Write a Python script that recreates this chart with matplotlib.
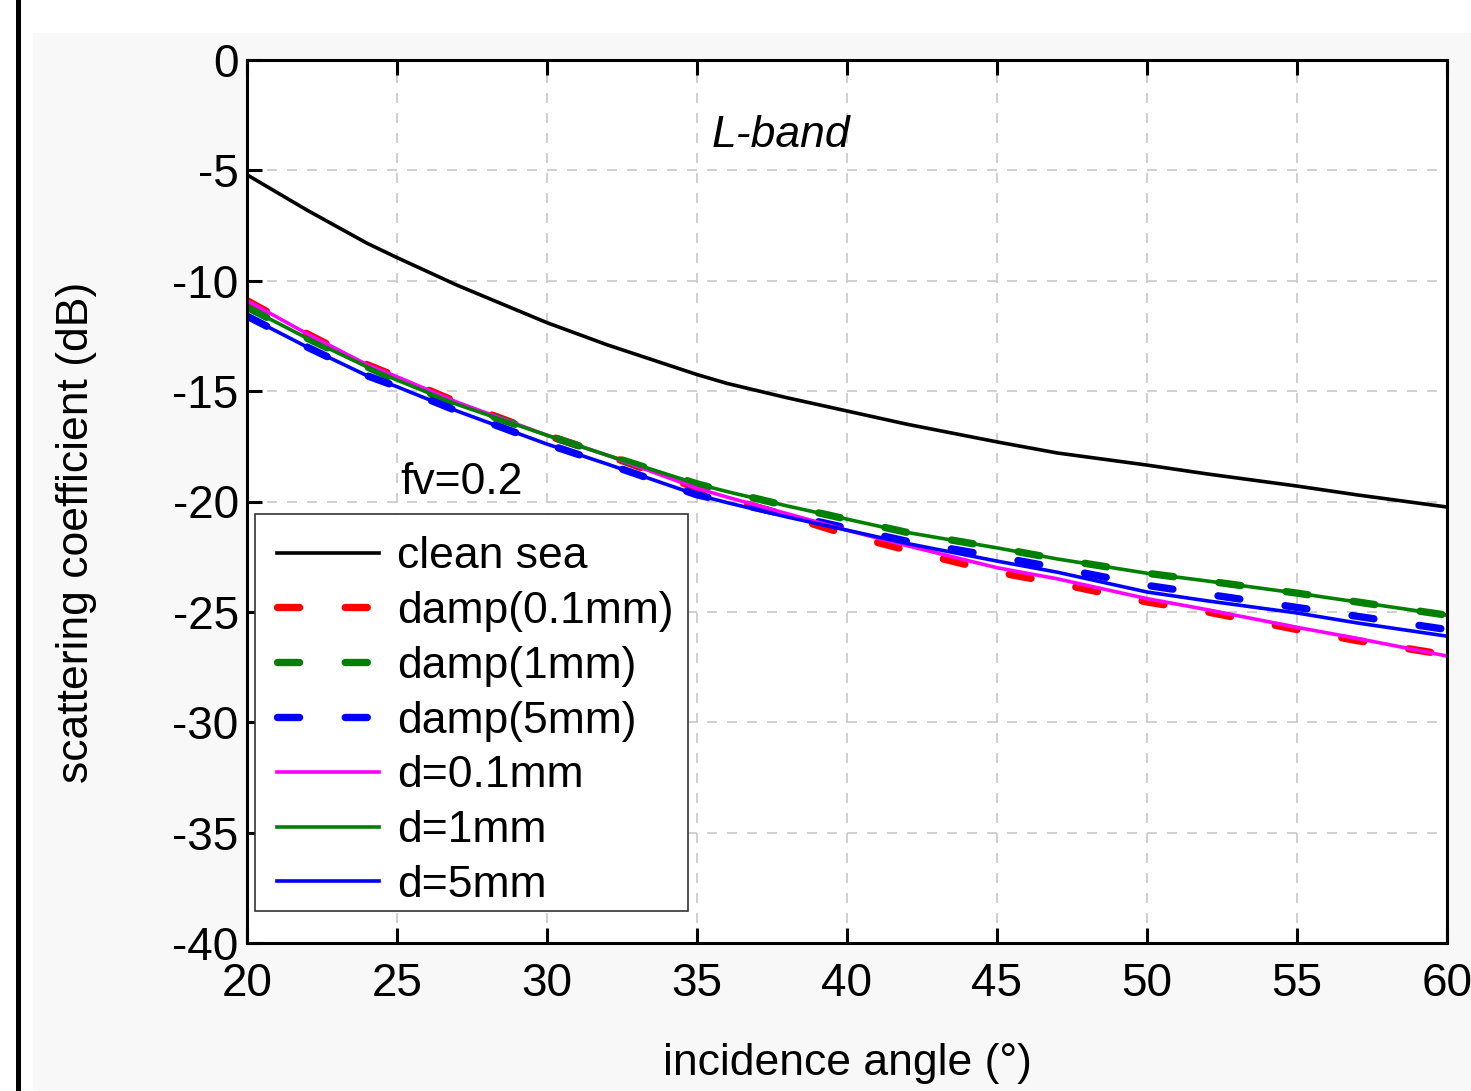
import numpy as np
import matplotlib.pyplot as plt
from matplotlib.patches import Rectangle

plt.rcParams['font.family'] = ['Liberation Sans', 'DejaVu Sans']
plt.rcParams['axes.unicode_minus'] = False

# incidence angles (deg)
angle = [20, 22, 24, 25, 27, 30, 32, 35, 36, 38, 40, 42, 45, 47, 50, 52, 55, 57, 60]

# scattering coefficient (dB)
clean_sea = [-5.2, -6.8, -8.3, -8.95, -10.2, -11.9, -12.9, -14.25, -14.65, -15.3, -15.9,
             -16.5, -17.3, -17.8, -18.35, -18.75, -19.3, -19.7, -20.25]
d01 = [-10.9, -12.4, -13.8, -14.35, -15.5, -17.0, -17.9, -19.4, -19.8, -20.55, -21.3,
       -22.0, -23.0, -23.5, -24.4, -24.9, -25.7, -26.2, -27.0]
d1 = [-11.2, -12.6, -13.9, -14.5, -15.6, -17.0, -17.9, -19.2, -19.55, -20.2, -20.8,
      -21.4, -22.1, -22.6, -23.25, -23.6, -24.15, -24.55, -25.15]
d5 = [-11.6, -13.0, -14.3, -14.8, -15.9, -17.4, -18.3, -19.7, -20.05, -20.7, -21.3,
      -21.9, -22.7, -23.2, -24.1, -24.5, -25.05, -25.5, -26.1]
damp01 = [-10.9, -12.4, -13.8, -14.35, -15.5, -17.0, -17.9, -19.4, -19.85, -20.65, -21.5,
          -22.2, -23.2, -23.7, -24.55, -25.0, -25.8, -26.3, -26.95]
damp1 = [-11.2, -12.6, -13.9, -14.5, -15.6, -17.0, -17.9, -19.2, -19.55, -20.2, -20.8,
         -21.4, -22.1, -22.6, -23.25, -23.6, -24.15, -24.55, -25.15]
damp5 = [-11.6, -13.0, -14.3, -14.8, -15.9, -17.4, -18.3, -19.7, -20.0, -20.6, -21.2,
         -21.8, -22.5, -23.0, -23.8, -24.2, -24.8, -25.2, -25.8]

fig = plt.figure(figsize=(14.71, 10.91), dpi=100)
fig.patch.set_facecolor('white')
# faint grey page behind the chart and black bar on the left edge
fig.patches.append(Rectangle((33 / 1471, 0), 1, 1 - 33 / 1091, transform=fig.transFigure,
                             facecolor='#f8f8f8', edgecolor='none', zorder=-10))
fig.patches.append(Rectangle((16 / 1471, 0), 5 / 1471, 1, transform=fig.transFigure,
                             facecolor='black', edgecolor='none', zorder=-9))

ax = fig.add_axes([247 / 1471, 1 - 943 / 1091, 1200 / 1471, 883 / 1091])
ax.set_facecolor('white')

dash_kw = dict(linewidth=5.3, dashes=(3, 6.2), dash_capstyle='round')
ax.plot(angle, clean_sea, color='black', linewidth=2.6, label='clean sea')
ax.plot(angle, damp01, color='red', label='damp(0.1mm)', **dash_kw)
ax.plot(angle, damp1, color='green', label='damp(1mm)', **dash_kw)
ax.plot(angle, damp5, color='blue', label='damp(5mm)', **dash_kw)
ax.plot(angle, d01, color='magenta', linewidth=2.6, label='d=0.1mm')
ax.plot(angle, d1, color='green', linewidth=2.6, label='d=1mm')
ax.plot(angle, d5, color='blue', linewidth=2.6, label='d=5mm')

ax.set_xlim(20, 60)
ax.set_ylim(-40, 0)
ax.set_xticks(np.arange(20, 61, 5))
ax.set_yticks(np.arange(-40, 1, 5))
ax.grid(True, color='#c8c8c8', linestyle=(0, (6, 6)), linewidth=1.2)

for s in ax.spines.values():
    s.set_linewidth(2.2)
ax.tick_params(axis='both', direction='in', length=11, width=2.2, labelsize=33,
               top=True, right=False)
ax.tick_params(axis='x', pad=14)
ax.tick_params(axis='y', pad=6)

ax.set_xlabel('incidence angle (°)', fontsize=32, labelpad=26)
ax.set_ylabel('scattering coefficient (dB)', fontsize=32)
ax.yaxis.set_label_coords(-0.125, 0.4655)

ax.text(37.8, -3.4, 'L-band', fontsize=32, style='italic', ha='center', va='center')
ax.text(25.1, -19.15, 'fv=0.2', fontsize=32, ha='left', va='center')

# legend box drawn separately so its size matches the original
ax.add_patch(Rectangle((8 / 1200, 1 - 851 / 883), 433 / 1200, 397 / 883,
                       transform=ax.transAxes, facecolor='white', edgecolor='#333333',
                       linewidth=1.2, zorder=4))
leg = ax.legend(loc='upper left', bbox_to_anchor=(8 / 1200, 1 - 454 / 883), fontsize=32,
                frameon=False, handlelength=2.3, handletextpad=0.4, labelspacing=0.31,
                borderpad=0.5, borderaxespad=0)
leg.set_zorder(5)

fig.savefig('out.png', dpi=100)
